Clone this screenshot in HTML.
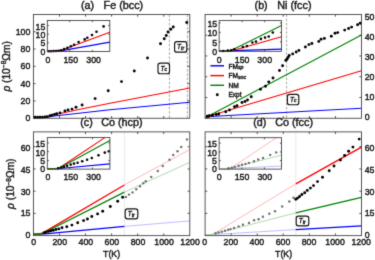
<!DOCTYPE html>
<html><head><meta charset="utf-8"><style>
html,body{margin:0;padding:0;background:#fff;overflow:hidden}
svg{display:block}
text{stroke:#1a1a1a;stroke-width:0.4px;paint-order:stroke}
</style></head><body>
<svg xmlns="http://www.w3.org/2000/svg" width="375" height="260" viewBox="0 0 375 260" font-family='"Liberation Sans", sans-serif' fill="#1a1a1a">
<defs><filter id="bl" x="0" y="0" width="1" height="1" color-interpolation-filters="sRGB"><feConvolveMatrix order="3" kernelMatrix="0.01440 0.09120 0.01440 0.09120 0.57760 0.09120 0.01440 0.09120 0.01440" divisor="1" edgeMode="duplicate" preserveAlpha="true"/></filter></defs>
<rect width="375" height="260" fill="#fff"/>
<g filter="url(#bl)">
<rect width="375" height="260" fill="#fff"/>
<line x1="169.4" y1="14.45" x2="169.4" y2="118.25" stroke="#a0a0a0" stroke-width="0.9" stroke-dasharray="2.6,1.6"/>
<line x1="187.4" y1="14.45" x2="187.4" y2="118.25" stroke="#a0a0a0" stroke-width="0.9" stroke-dasharray="2.6,1.6"/>
<path d="M33.4,117.6 L43,117.6 Q47.5,117.4 52,116.3 L110,109.8 L189.8,102.2" fill="none" stroke="#0000ff" stroke-width="1.1" stroke-linejoin="round" />
<path d="M33.4,117.6 L43,117.5 Q47.5,117.2 52,115.3 L80,109.3 L110,103.2 L189.8,88.0" fill="none" stroke="#ff0000" stroke-width="1.1" stroke-linejoin="round" />
<circle cx="186.75" cy="22.5" r="1.45" fill="#000"/>
<circle cx="173.25" cy="27" r="1.45" fill="#000"/>
<circle cx="170.75" cy="29.25" r="1.45" fill="#000"/>
<circle cx="168" cy="32" r="1.45" fill="#000"/>
<circle cx="166.25" cy="35.5" r="1.45" fill="#000"/>
<circle cx="164.25" cy="38.75" r="1.45" fill="#000"/>
<circle cx="160.5" cy="43.75" r="1.45" fill="#000"/>
<circle cx="147.5" cy="58" r="1.45" fill="#000"/>
<circle cx="134.3" cy="71" r="1.45" fill="#000"/>
<circle cx="121.5" cy="81.6" r="1.45" fill="#000"/>
<circle cx="108.2" cy="90.8" r="1.45" fill="#000"/>
<circle cx="95.1" cy="98.6" r="1.45" fill="#000"/>
<circle cx="82.1" cy="105" r="1.45" fill="#000"/>
<circle cx="76" cy="107.3" r="1.45" fill="#000"/>
<circle cx="72" cy="109.1" r="1.45" fill="#000"/>
<circle cx="68" cy="109.9" r="1.45" fill="#000"/>
<circle cx="64.9" cy="110.9" r="1.45" fill="#000"/>
<circle cx="60" cy="112.9" r="1.45" fill="#000"/>
<circle cx="56.7" cy="113.7" r="1.45" fill="#000"/>
<circle cx="54.5" cy="114.4" r="1.45" fill="#000"/>
<circle cx="52" cy="115.1" r="1.45" fill="#000"/>
<circle cx="50" cy="115.7" r="1.45" fill="#000"/>
<circle cx="47.3" cy="116.6" r="1.45" fill="#000"/>
<circle cx="45" cy="116.9" r="1.45" fill="#000"/>
<circle cx="42.5" cy="117.1" r="1.45" fill="#000"/>
<circle cx="40" cy="117.2" r="1.45" fill="#000"/>
<circle cx="37.5" cy="117.3" r="1.45" fill="#000"/>
<circle cx="35" cy="117.3" r="1.45" fill="#000"/>
<rect x="174.6" y="41.6" width="12.2" height="10.6" rx="2.3" fill="#fff" stroke="#111" stroke-width="1.15"/>
<text x="177.1" y="49" font-size="6.5" fill="#222"><tspan font-style="italic">T</tspan><tspan font-size="5.0" font-style="italic" dy="0.9">tr</tspan></text>
<rect x="158" y="63.1" width="11.5" height="10.6" rx="2.3" fill="#fff" stroke="#111" stroke-width="1.15"/>
<text x="160.5" y="70.5" font-size="6.5" fill="#222"><tspan font-style="italic">T</tspan><tspan font-size="5.0" font-style="italic" dy="0.9">c</tspan></text>
<rect x="33.4" y="14.45" width="156.4" height="103.8" fill="none" stroke="#3a3a3a" stroke-width="0.85"/>
<line x1="59.47" y1="118.25" x2="59.47" y2="116.05" stroke="#3a3a3a" stroke-width="0.85" />
<line x1="59.47" y1="14.45" x2="59.47" y2="16.65" stroke="#3a3a3a" stroke-width="0.85" />
<line x1="85.53" y1="118.25" x2="85.53" y2="116.05" stroke="#3a3a3a" stroke-width="0.85" />
<line x1="85.53" y1="14.45" x2="85.53" y2="16.65" stroke="#3a3a3a" stroke-width="0.85" />
<line x1="111.6" y1="118.25" x2="111.6" y2="116.05" stroke="#3a3a3a" stroke-width="0.85" />
<line x1="111.6" y1="14.45" x2="111.6" y2="16.65" stroke="#3a3a3a" stroke-width="0.85" />
<line x1="137.67" y1="118.25" x2="137.67" y2="116.05" stroke="#3a3a3a" stroke-width="0.85" />
<line x1="137.67" y1="14.45" x2="137.67" y2="16.65" stroke="#3a3a3a" stroke-width="0.85" />
<line x1="163.73" y1="118.25" x2="163.73" y2="116.05" stroke="#3a3a3a" stroke-width="0.85" />
<line x1="163.73" y1="14.45" x2="163.73" y2="16.65" stroke="#3a3a3a" stroke-width="0.85" />
<line x1="33.4" y1="100.95" x2="35.6" y2="100.95" stroke="#3a3a3a" stroke-width="0.85" />
<line x1="189.8" y1="100.95" x2="187.6" y2="100.95" stroke="#3a3a3a" stroke-width="0.85" />
<line x1="33.4" y1="83.65" x2="35.6" y2="83.65" stroke="#3a3a3a" stroke-width="0.85" />
<line x1="189.8" y1="83.65" x2="187.6" y2="83.65" stroke="#3a3a3a" stroke-width="0.85" />
<line x1="33.4" y1="66.35" x2="35.6" y2="66.35" stroke="#3a3a3a" stroke-width="0.85" />
<line x1="189.8" y1="66.35" x2="187.6" y2="66.35" stroke="#3a3a3a" stroke-width="0.85" />
<line x1="33.4" y1="49.05" x2="35.6" y2="49.05" stroke="#3a3a3a" stroke-width="0.85" />
<line x1="189.8" y1="49.05" x2="187.6" y2="49.05" stroke="#3a3a3a" stroke-width="0.85" />
<line x1="33.4" y1="31.75" x2="35.6" y2="31.75" stroke="#3a3a3a" stroke-width="0.85" />
<line x1="189.8" y1="31.75" x2="187.6" y2="31.75" stroke="#3a3a3a" stroke-width="0.85" />
<text transform="translate(30.3,120.83) scale(1.0,1.12)" font-size="8.8" text-anchor="end" >0</text>
<text transform="translate(30.3,103.71) scale(1.0,1.12)" font-size="8.8" text-anchor="end" >20</text>
<text transform="translate(30.3,86.59) scale(1.0,1.12)" font-size="8.8" text-anchor="end" >40</text>
<text transform="translate(30.3,69.47) scale(1.0,1.12)" font-size="8.8" text-anchor="end" >60</text>
<text transform="translate(30.3,52.35) scale(1.0,1.12)" font-size="8.8" text-anchor="end" >80</text>
<text transform="translate(30.3,35.23) scale(1.0,1.12)" font-size="8.8" text-anchor="end" >100</text>
<rect x="47.3" y="20.5" width="62.5" height="31" fill="#fff"/>
<path d="M47.3,51.2 L55.5,51.2 Q58.8,51.1 62,50.6 L109.8,42.1" fill="none" stroke="#0000ff" stroke-width="1.1" stroke-linejoin="round" />
<path d="M47.3,51.2 L55.5,51.2 Q58.8,51.1 62,50.1 L109.8,32.2" fill="none" stroke="#ff0000" stroke-width="1.1" stroke-linejoin="round" />
<circle cx="103.6" cy="26.4" r="1.3" fill="#000"/>
<circle cx="96.5" cy="31.8" r="1.3" fill="#000"/>
<circle cx="92" cy="35" r="1.3" fill="#000"/>
<circle cx="87.3" cy="37.7" r="1.3" fill="#000"/>
<circle cx="84.7" cy="39.4" r="1.3" fill="#000"/>
<circle cx="78.6" cy="42.1" r="1.3" fill="#000"/>
<circle cx="74.1" cy="44.8" r="1.3" fill="#000"/>
<circle cx="70.9" cy="46.2" r="1.3" fill="#000"/>
<circle cx="67.5" cy="47.8" r="1.3" fill="#000"/>
<circle cx="64.1" cy="49.1" r="1.3" fill="#000"/>
<circle cx="61.1" cy="50.2" r="1.3" fill="#000"/>
<circle cx="58.5" cy="50.8" r="1.3" fill="#000"/>
<circle cx="56" cy="51" r="1.3" fill="#000"/>
<circle cx="53.5" cy="51.1" r="1.3" fill="#000"/>
<circle cx="51" cy="51.2" r="1.3" fill="#000"/>
<circle cx="48.7" cy="51.2" r="1.3" fill="#000"/>
<rect x="47.3" y="20.5" width="62.5" height="31" fill="none" stroke="#3a3a3a" stroke-width="0.85"/>
<line x1="69.7" y1="51.5" x2="69.7" y2="49.9" stroke="#3a3a3a" stroke-width="0.85" />
<line x1="69.7" y1="20.5" x2="69.7" y2="22.1" stroke="#3a3a3a" stroke-width="0.85" />
<line x1="92.4" y1="51.5" x2="92.4" y2="49.9" stroke="#3a3a3a" stroke-width="0.85" />
<line x1="92.4" y1="20.5" x2="92.4" y2="22.1" stroke="#3a3a3a" stroke-width="0.85" />
<line x1="47.3" y1="42.8" x2="48.9" y2="42.8" stroke="#3a3a3a" stroke-width="0.85" />
<line x1="109.8" y1="42.8" x2="108.2" y2="42.8" stroke="#3a3a3a" stroke-width="0.85" />
<line x1="47.3" y1="34.2" x2="48.9" y2="34.2" stroke="#3a3a3a" stroke-width="0.85" />
<line x1="109.8" y1="34.2" x2="108.2" y2="34.2" stroke="#3a3a3a" stroke-width="0.85" />
<line x1="47.3" y1="25.5" x2="48.9" y2="25.5" stroke="#3a3a3a" stroke-width="0.85" />
<line x1="109.8" y1="25.5" x2="108.2" y2="25.5" stroke="#3a3a3a" stroke-width="0.85" />
<text transform="translate(45.4,54.53) scale(1.0,1.12)" font-size="8.8" text-anchor="end" >0</text>
<text transform="translate(45.4,46.43) scale(1.0,1.12)" font-size="8.8" text-anchor="end" >5</text>
<text transform="translate(45.4,38.23) scale(1.0,1.12)" font-size="8.8" text-anchor="end" >10</text>
<text transform="translate(45.4,29.93) scale(1.0,1.12)" font-size="8.8" text-anchor="end" >15</text>
<text transform="translate(47.9,63.13) scale(1.0,1.12)" font-size="8.8" text-anchor="middle" >0</text>
<text transform="translate(70.8,63.13) scale(1.0,1.12)" font-size="8.8" text-anchor="middle" >150</text>
<text transform="translate(93.6,63.13) scale(1.0,1.12)" font-size="8.8" text-anchor="middle" >300</text>
<line x1="286.6" y1="14.45" x2="286.6" y2="118.25" stroke="#a0a0a0" stroke-width="0.9" stroke-dasharray="2.6,1.6"/>
<path d="M205.1,117.6 L207,117.6 Q208.5,117.4 210,116.5 L361.45,108.3" fill="none" stroke="#0000ff" stroke-width="1.1" stroke-linejoin="round" />
<path d="M205.1,117.6 L207,117.5 Q209,117.2 211,115.5 L361.45,70.8" fill="none" stroke="#ff0000" stroke-width="1.1" stroke-linejoin="round" />
<path d="M205.1,117.6 Q207.8,117.5 210,115.2 L361.45,35" fill="none" stroke="#008000" stroke-width="1.1" stroke-linejoin="round" />
<circle cx="360.2" cy="23.2" r="1.45" fill="#000"/>
<circle cx="357.6" cy="24.8" r="1.45" fill="#000"/>
<circle cx="351.6" cy="27.1" r="1.45" fill="#000"/>
<circle cx="348.6" cy="28.5" r="1.45" fill="#000"/>
<circle cx="344.7" cy="30.1" r="1.45" fill="#000"/>
<circle cx="337.7" cy="32.6" r="1.45" fill="#000"/>
<circle cx="335" cy="33.3" r="1.45" fill="#000"/>
<circle cx="331.3" cy="36.3" r="1.45" fill="#000"/>
<circle cx="324.4" cy="38.4" r="1.45" fill="#000"/>
<circle cx="321.1" cy="39.3" r="1.45" fill="#000"/>
<circle cx="318.8" cy="41.4" r="1.45" fill="#000"/>
<circle cx="311.9" cy="43.5" r="1.45" fill="#000"/>
<circle cx="308.9" cy="44.6" r="1.45" fill="#000"/>
<circle cx="305.4" cy="47" r="1.45" fill="#000"/>
<circle cx="298.9" cy="50.4" r="1.45" fill="#000"/>
<circle cx="296.2" cy="52" r="1.45" fill="#000"/>
<circle cx="292.7" cy="53.9" r="1.45" fill="#000"/>
<circle cx="289.2" cy="55.5" r="1.45" fill="#000"/>
<circle cx="288.1" cy="57.4" r="1.45" fill="#000"/>
<circle cx="286.9" cy="59.2" r="1.45" fill="#000"/>
<circle cx="285.8" cy="60.4" r="1.45" fill="#000"/>
<circle cx="282.6" cy="65.8" r="1.45" fill="#000"/>
<circle cx="279.5" cy="70.5" r="1.45" fill="#000"/>
<circle cx="273" cy="78" r="1.45" fill="#000"/>
<circle cx="268.75" cy="82" r="1.45" fill="#000"/>
<circle cx="265.5" cy="86.25" r="1.45" fill="#000"/>
<circle cx="260.5" cy="89.25" r="1.45" fill="#000"/>
<circle cx="251.25" cy="96.75" r="1.45" fill="#000"/>
<circle cx="247.5" cy="100" r="1.45" fill="#000"/>
<circle cx="245" cy="101.5" r="1.45" fill="#000"/>
<circle cx="242" cy="102.5" r="1.45" fill="#000"/>
<circle cx="237" cy="105.75" r="1.45" fill="#000"/>
<circle cx="234.5" cy="106.75" r="1.45" fill="#000"/>
<circle cx="229.5" cy="110" r="1.45" fill="#000"/>
<circle cx="225.75" cy="111.75" r="1.45" fill="#000"/>
<circle cx="218.75" cy="114" r="1.45" fill="#000"/>
<circle cx="216.25" cy="114.5" r="1.45" fill="#000"/>
<circle cx="212.5" cy="115.25" r="1.45" fill="#000"/>
<circle cx="209.25" cy="115.75" r="1.45" fill="#000"/>
<circle cx="207.3" cy="116.2" r="1.45" fill="#000"/>
<rect x="287.4" y="94.3" width="11.4" height="10.4" rx="2.3" fill="#fff" stroke="#111" stroke-width="1.15"/>
<text x="289.9" y="101.5" font-size="6.5" fill="#222"><tspan font-style="italic">T</tspan><tspan font-size="5.0" font-style="italic" dy="0.9">c</tspan></text>
<rect x="205.1" y="14.45" width="156.35" height="103.8" fill="none" stroke="#3a3a3a" stroke-width="0.85"/>
<line x1="231.16" y1="118.25" x2="231.16" y2="116.05" stroke="#3a3a3a" stroke-width="0.85" />
<line x1="231.16" y1="14.45" x2="231.16" y2="16.65" stroke="#3a3a3a" stroke-width="0.85" />
<line x1="257.22" y1="118.25" x2="257.22" y2="116.05" stroke="#3a3a3a" stroke-width="0.85" />
<line x1="257.22" y1="14.45" x2="257.22" y2="16.65" stroke="#3a3a3a" stroke-width="0.85" />
<line x1="283.27" y1="118.25" x2="283.27" y2="116.05" stroke="#3a3a3a" stroke-width="0.85" />
<line x1="283.27" y1="14.45" x2="283.27" y2="16.65" stroke="#3a3a3a" stroke-width="0.85" />
<line x1="309.33" y1="118.25" x2="309.33" y2="116.05" stroke="#3a3a3a" stroke-width="0.85" />
<line x1="309.33" y1="14.45" x2="309.33" y2="16.65" stroke="#3a3a3a" stroke-width="0.85" />
<line x1="335.39" y1="118.25" x2="335.39" y2="116.05" stroke="#3a3a3a" stroke-width="0.85" />
<line x1="335.39" y1="14.45" x2="335.39" y2="16.65" stroke="#3a3a3a" stroke-width="0.85" />
<line x1="205.1" y1="97.49" x2="207.3" y2="97.49" stroke="#3a3a3a" stroke-width="0.85" />
<line x1="361.45" y1="97.49" x2="359.25" y2="97.49" stroke="#3a3a3a" stroke-width="0.85" />
<line x1="205.1" y1="76.73" x2="207.3" y2="76.73" stroke="#3a3a3a" stroke-width="0.85" />
<line x1="361.45" y1="76.73" x2="359.25" y2="76.73" stroke="#3a3a3a" stroke-width="0.85" />
<line x1="205.1" y1="55.97" x2="207.3" y2="55.97" stroke="#3a3a3a" stroke-width="0.85" />
<line x1="361.45" y1="55.97" x2="359.25" y2="55.97" stroke="#3a3a3a" stroke-width="0.85" />
<line x1="205.1" y1="35.21" x2="207.3" y2="35.21" stroke="#3a3a3a" stroke-width="0.85" />
<line x1="361.45" y1="35.21" x2="359.25" y2="35.21" stroke="#3a3a3a" stroke-width="0.85" />
<text transform="translate(364.7,120.43) scale(1.0,1.12)" font-size="8.8" text-anchor="start" >0</text>
<text transform="translate(364.7,100.39) scale(1.0,1.12)" font-size="8.8" text-anchor="start" >10</text>
<text transform="translate(364.7,80.35) scale(1.0,1.12)" font-size="8.8" text-anchor="start" >20</text>
<text transform="translate(364.7,60.31) scale(1.0,1.12)" font-size="8.8" text-anchor="start" >30</text>
<text transform="translate(364.7,40.27) scale(1.0,1.12)" font-size="8.8" text-anchor="start" >40</text>
<text transform="translate(364.7,20.23) scale(1.0,1.12)" font-size="8.8" text-anchor="start" >50</text>
<line x1="210.4" y1="65.8" x2="224" y2="65.8" stroke="#0000ff" stroke-width="1.45" />
<line x1="210.4" y1="75.6" x2="224" y2="75.6" stroke="#ff0000" stroke-width="1.45" />
<line x1="210.4" y1="85.3" x2="224" y2="85.3" stroke="#008000" stroke-width="1.45" />
<circle cx="217.3" cy="94.7" r="1.45" fill="#000"/>
<text x="228.4" y="68.5" font-size="6.6">FM<tspan font-size="5.2" font-style="italic" dy="0.9">sp</tspan></text>
<text x="228.4" y="78.2" font-size="6.6">FM<tspan font-size="5.2" font-style="italic" dy="0.9">soc</tspan></text>
<text x="228.4" y="87.7" font-size="6.6">NM</text>
<text x="228.4" y="96.6" font-size="6.6">Expt</text>
<rect x="219.1" y="20.6" width="62.4" height="30.7" fill="#fff"/>
<path d="M219.1,51.1 L228,51.1 Q231,51 234,50.6 L281.5,49.1" fill="none" stroke="#0000ff" stroke-width="1.1" stroke-linejoin="round" />
<path d="M219.1,51.1 L226,51.1 Q229.5,51 233,50.5 L281.5,36.7" fill="none" stroke="#ff0000" stroke-width="1.1" stroke-linejoin="round" />
<path d="M219.1,51.1 L225.5,51.1 Q229,51 232,50.1 L281.5,25.6" fill="none" stroke="#008000" stroke-width="1.1" stroke-linejoin="round" />
<circle cx="272.8" cy="32.5" r="1.3" fill="#000"/>
<circle cx="268.7" cy="36.5" r="1.3" fill="#000"/>
<circle cx="265" cy="37.6" r="1.3" fill="#000"/>
<circle cx="260.9" cy="38.9" r="1.3" fill="#000"/>
<circle cx="256" cy="41.6" r="1.3" fill="#000"/>
<circle cx="252.4" cy="42.5" r="1.3" fill="#000"/>
<circle cx="246.9" cy="46.1" r="1.3" fill="#000"/>
<circle cx="242.9" cy="47" r="1.3" fill="#000"/>
<circle cx="234.2" cy="49.2" r="1.3" fill="#000"/>
<circle cx="231.1" cy="50.3" r="1.3" fill="#000"/>
<circle cx="227.9" cy="50.6" r="1.3" fill="#000"/>
<circle cx="223.3" cy="51" r="1.3" fill="#000"/>
<rect x="219.1" y="20.6" width="62.4" height="30.7" fill="none" stroke="#3a3a3a" stroke-width="0.85"/>
<line x1="242.1" y1="51.3" x2="242.1" y2="49.7" stroke="#3a3a3a" stroke-width="0.85" />
<line x1="242.1" y1="20.6" x2="242.1" y2="22.2" stroke="#3a3a3a" stroke-width="0.85" />
<line x1="264.6" y1="51.3" x2="264.6" y2="49.7" stroke="#3a3a3a" stroke-width="0.85" />
<line x1="264.6" y1="20.6" x2="264.6" y2="22.2" stroke="#3a3a3a" stroke-width="0.85" />
<line x1="219.1" y1="41.9" x2="220.7" y2="41.9" stroke="#3a3a3a" stroke-width="0.85" />
<line x1="281.5" y1="41.9" x2="279.9" y2="41.9" stroke="#3a3a3a" stroke-width="0.85" />
<line x1="219.1" y1="32.4" x2="220.7" y2="32.4" stroke="#3a3a3a" stroke-width="0.85" />
<line x1="281.5" y1="32.4" x2="279.9" y2="32.4" stroke="#3a3a3a" stroke-width="0.85" />
<line x1="219.1" y1="23" x2="220.7" y2="23" stroke="#3a3a3a" stroke-width="0.85" />
<line x1="281.5" y1="23" x2="279.9" y2="23" stroke="#3a3a3a" stroke-width="0.85" />
<text transform="translate(217.2,54.83) scale(1.0,1.12)" font-size="8.8" text-anchor="end" >0</text>
<text transform="translate(217.2,45.83) scale(1.0,1.12)" font-size="8.8" text-anchor="end" >5</text>
<text transform="translate(217.2,36.13) scale(1.0,1.12)" font-size="8.8" text-anchor="end" >10</text>
<text transform="translate(217.2,26.83) scale(1.0,1.12)" font-size="8.8" text-anchor="end" >15</text>
<text transform="translate(219.1,62.93) scale(1.0,1.12)" font-size="8.8" text-anchor="middle" >0</text>
<text transform="translate(242.1,62.93) scale(1.0,1.12)" font-size="8.8" text-anchor="middle" >150</text>
<text transform="translate(264.7,62.93) scale(1.0,1.12)" font-size="8.8" text-anchor="middle" >300</text>
<line x1="124.4" y1="131.9" x2="124.4" y2="235.65" stroke="#d6d6d6" stroke-width="0.9" stroke-dasharray="1.2,0.8"/>
<path d="M124.4,226.4 L189.8,220.9" fill="none" stroke="#b6b6ff" stroke-width="0.9" stroke-linejoin="round" />
<path d="M124.4,184.8 L189.8,149.6" fill="none" stroke="#ffb0b0" stroke-width="0.9" stroke-linejoin="round" />
<path d="M124.4,192.2 L189.8,162.3" fill="none" stroke="#a6d6a6" stroke-width="0.9" stroke-linejoin="round" />
<circle cx="187" cy="139.4" r="1.2" fill="#6e6e6e"/>
<circle cx="181.25" cy="147" r="1.2" fill="#6e6e6e"/>
<circle cx="177.5" cy="151.25" r="1.2" fill="#6e6e6e"/>
<circle cx="173.25" cy="155" r="1.2" fill="#6e6e6e"/>
<circle cx="169.5" cy="159.8" r="1.2" fill="#6e6e6e"/>
<circle cx="162.75" cy="166" r="1.2" fill="#6e6e6e"/>
<circle cx="157.75" cy="171" r="1.2" fill="#6e6e6e"/>
<circle cx="151.25" cy="177" r="1.2" fill="#6e6e6e"/>
<circle cx="145.75" cy="181.3" r="1.2" fill="#6e6e6e"/>
<circle cx="143.25" cy="183.3" r="1.2" fill="#6e6e6e"/>
<circle cx="140" cy="186.2" r="1.2" fill="#6e6e6e"/>
<circle cx="136.25" cy="189.2" r="1.2" fill="#6e6e6e"/>
<circle cx="132.5" cy="192.4" r="1.2" fill="#6e6e6e"/>
<circle cx="129" cy="194.6" r="1.2" fill="#6e6e6e"/>
<circle cx="125.9" cy="197" r="1.2" fill="#6e6e6e"/>
<path d="M33.4,234.3 L40,234.2 Q44,234.1 48,233.7 L124.4,226.4" fill="none" stroke="#0000ff" stroke-width="1.2" stroke-linejoin="round" />
<path d="M33.4,234.2 L38,234.1 Q41,233.9 43,232.8 L124.4,185.0" fill="none" stroke="#ff0000" stroke-width="1.35" stroke-linejoin="round" />
<path d="M33.4,234.2 L38,234.1 Q41,233.9 43.5,233.0 L124.4,192.1" fill="none" stroke="#008000" stroke-width="1.35" stroke-linejoin="round" />
<circle cx="122.6" cy="197.3" r="1.45" fill="#000"/>
<circle cx="117.7" cy="201.3" r="1.45" fill="#000"/>
<circle cx="110.3" cy="206.5" r="1.45" fill="#000"/>
<circle cx="102.7" cy="211.2" r="1.45" fill="#000"/>
<circle cx="97.6" cy="213.9" r="1.45" fill="#000"/>
<circle cx="91.8" cy="216.5" r="1.45" fill="#000"/>
<circle cx="87.4" cy="219" r="1.45" fill="#000"/>
<circle cx="83.6" cy="220.6" r="1.45" fill="#000"/>
<circle cx="77.7" cy="222.7" r="1.45" fill="#000"/>
<circle cx="71.9" cy="225.1" r="1.45" fill="#000"/>
<circle cx="66.8" cy="226.7" r="1.45" fill="#000"/>
<circle cx="62" cy="227.8" r="1.45" fill="#000"/>
<circle cx="58.8" cy="228.9" r="1.45" fill="#000"/>
<circle cx="56" cy="229.5" r="1.45" fill="#000"/>
<circle cx="53.4" cy="230.2" r="1.45" fill="#000"/>
<circle cx="51" cy="230.8" r="1.45" fill="#000"/>
<circle cx="48.6" cy="231.4" r="1.45" fill="#000"/>
<circle cx="46.2" cy="232.1" r="1.45" fill="#000"/>
<circle cx="44.2" cy="232.7" r="1.45" fill="#000"/>
<rect x="125.2" y="208.9" width="12.6" height="10" rx="2.3" fill="#fff" stroke="#111" stroke-width="1.15"/>
<text x="127.7" y="215.7" font-size="6.5" fill="#222"><tspan font-style="italic">T</tspan><tspan font-size="5.0" font-style="italic" dy="0.9">tr</tspan></text>
<rect x="33.4" y="131.9" width="156.4" height="103.75" fill="none" stroke="#3a3a3a" stroke-width="0.85"/>
<line x1="59.47" y1="235.65" x2="59.47" y2="233.45" stroke="#3a3a3a" stroke-width="0.85" />
<line x1="59.47" y1="131.9" x2="59.47" y2="134.1" stroke="#3a3a3a" stroke-width="0.85" />
<line x1="85.53" y1="235.65" x2="85.53" y2="233.45" stroke="#3a3a3a" stroke-width="0.85" />
<line x1="85.53" y1="131.9" x2="85.53" y2="134.1" stroke="#3a3a3a" stroke-width="0.85" />
<line x1="111.6" y1="235.65" x2="111.6" y2="233.45" stroke="#3a3a3a" stroke-width="0.85" />
<line x1="111.6" y1="131.9" x2="111.6" y2="134.1" stroke="#3a3a3a" stroke-width="0.85" />
<line x1="137.67" y1="235.65" x2="137.67" y2="233.45" stroke="#3a3a3a" stroke-width="0.85" />
<line x1="137.67" y1="131.9" x2="137.67" y2="134.1" stroke="#3a3a3a" stroke-width="0.85" />
<line x1="163.73" y1="235.65" x2="163.73" y2="233.45" stroke="#3a3a3a" stroke-width="0.85" />
<line x1="163.73" y1="131.9" x2="163.73" y2="134.1" stroke="#3a3a3a" stroke-width="0.85" />
<line x1="33.4" y1="213.42" x2="35.6" y2="213.42" stroke="#3a3a3a" stroke-width="0.85" />
<line x1="189.8" y1="213.42" x2="187.6" y2="213.42" stroke="#3a3a3a" stroke-width="0.85" />
<line x1="33.4" y1="191.19" x2="35.6" y2="191.19" stroke="#3a3a3a" stroke-width="0.85" />
<line x1="189.8" y1="191.19" x2="187.6" y2="191.19" stroke="#3a3a3a" stroke-width="0.85" />
<line x1="33.4" y1="168.95" x2="35.6" y2="168.95" stroke="#3a3a3a" stroke-width="0.85" />
<line x1="189.8" y1="168.95" x2="187.6" y2="168.95" stroke="#3a3a3a" stroke-width="0.85" />
<line x1="33.4" y1="146.72" x2="35.6" y2="146.72" stroke="#3a3a3a" stroke-width="0.85" />
<line x1="189.8" y1="146.72" x2="187.6" y2="146.72" stroke="#3a3a3a" stroke-width="0.85" />
<text transform="translate(30.5,237.83) scale(1.0,1.12)" font-size="8.8" text-anchor="end" >0</text>
<text transform="translate(30.5,216.23) scale(1.0,1.12)" font-size="8.8" text-anchor="end" >15</text>
<text transform="translate(30.5,194.93) scale(1.0,1.12)" font-size="8.8" text-anchor="end" >30</text>
<text transform="translate(30.5,173.13) scale(1.0,1.12)" font-size="8.8" text-anchor="end" >45</text>
<text transform="translate(30.5,151.03) scale(1.0,1.12)" font-size="8.8" text-anchor="end" >60</text>
<text transform="translate(33.7,245.43) scale(1.0,1.12)" font-size="8.8" text-anchor="middle" >0</text>
<text transform="translate(59.77,245.43) scale(1.0,1.12)" font-size="8.8" text-anchor="middle" >200</text>
<text transform="translate(85.83,245.43) scale(1.0,1.12)" font-size="8.8" text-anchor="middle" >400</text>
<text transform="translate(111.9,245.43) scale(1.0,1.12)" font-size="8.8" text-anchor="middle" >600</text>
<text transform="translate(137.97,245.43) scale(1.0,1.12)" font-size="8.8" text-anchor="middle" >800</text>
<text transform="translate(164.03,245.43) scale(1.0,1.12)" font-size="8.8" text-anchor="middle" >1000</text>
<text transform="translate(190.1,245.43) scale(1.0,1.12)" font-size="8.8" text-anchor="middle" >1200</text>
<rect x="47.3" y="137.6" width="62.6" height="31.5" fill="#fff"/>
<path d="M47.3,168.8 L56,168.8 Q59,168.7 62,168.2 L109.9,163.9" fill="none" stroke="#0000ff" stroke-width="1.1" stroke-linejoin="round" />
<path d="M47.3,168.8 L54,168.8 Q57,168.7 60,167.5 L104.8,137.6" fill="none" stroke="#ff0000" stroke-width="1.1" stroke-linejoin="round" />
<path d="M47.3,168.8 L54,168.8 Q57,168.7 60,167.8 L109.9,140.4" fill="none" stroke="#008000" stroke-width="1.1" stroke-linejoin="round" />
<circle cx="108.8" cy="151.3" r="1.3" fill="#000"/>
<circle cx="104.8" cy="152.6" r="1.3" fill="#000"/>
<circle cx="98.5" cy="155.3" r="1.3" fill="#000"/>
<circle cx="91.8" cy="158" r="1.3" fill="#000"/>
<circle cx="87.1" cy="159.8" r="1.3" fill="#000"/>
<circle cx="82.2" cy="161.3" r="1.3" fill="#000"/>
<circle cx="77.6" cy="162.7" r="1.3" fill="#000"/>
<circle cx="74" cy="163.6" r="1.3" fill="#000"/>
<circle cx="70.7" cy="164.6" r="1.3" fill="#000"/>
<circle cx="67.1" cy="165.8" r="1.3" fill="#000"/>
<circle cx="64" cy="166.7" r="1.3" fill="#000"/>
<circle cx="61.3" cy="167.6" r="1.3" fill="#000"/>
<circle cx="58.1" cy="168.2" r="1.3" fill="#000"/>
<rect x="47.3" y="137.6" width="62.6" height="31.5" fill="none" stroke="#3a3a3a" stroke-width="0.85"/>
<line x1="69.8" y1="169.1" x2="69.8" y2="167.5" stroke="#3a3a3a" stroke-width="0.85" />
<line x1="69.8" y1="137.6" x2="69.8" y2="139.2" stroke="#3a3a3a" stroke-width="0.85" />
<line x1="92.5" y1="169.1" x2="92.5" y2="167.5" stroke="#3a3a3a" stroke-width="0.85" />
<line x1="92.5" y1="137.6" x2="92.5" y2="139.2" stroke="#3a3a3a" stroke-width="0.85" />
<line x1="47.3" y1="160.6" x2="48.9" y2="160.6" stroke="#3a3a3a" stroke-width="0.85" />
<line x1="109.9" y1="160.6" x2="108.3" y2="160.6" stroke="#3a3a3a" stroke-width="0.85" />
<line x1="47.3" y1="151.7" x2="48.9" y2="151.7" stroke="#3a3a3a" stroke-width="0.85" />
<line x1="109.9" y1="151.7" x2="108.3" y2="151.7" stroke="#3a3a3a" stroke-width="0.85" />
<line x1="47.3" y1="142.9" x2="48.9" y2="142.9" stroke="#3a3a3a" stroke-width="0.85" />
<line x1="109.9" y1="142.9" x2="108.3" y2="142.9" stroke="#3a3a3a" stroke-width="0.85" />
<text transform="translate(45.2,172.23) scale(1.0,1.12)" font-size="8.8" text-anchor="end" >0</text>
<text transform="translate(45.2,164.23) scale(1.0,1.12)" font-size="8.8" text-anchor="end" >5</text>
<text transform="translate(45.2,155.83) scale(1.0,1.12)" font-size="8.8" text-anchor="end" >10</text>
<text transform="translate(45.2,147.03) scale(1.0,1.12)" font-size="8.8" text-anchor="end" >15</text>
<text transform="translate(47.9,179.53) scale(1.0,1.12)" font-size="8.8" text-anchor="middle" >0</text>
<text transform="translate(70.8,179.53) scale(1.0,1.12)" font-size="8.8" text-anchor="middle" >150</text>
<text transform="translate(93.6,179.53) scale(1.0,1.12)" font-size="8.8" text-anchor="middle" >300</text>
<line x1="295.8" y1="131.9" x2="295.8" y2="235.65" stroke="#d6d6d6" stroke-width="0.9" stroke-dasharray="1.2,0.8"/>
<path d="M205.1,234.9 L211,234.8 Q214,234.7 217,234.3 L295.8,229.6" fill="none" stroke="#b6b6ff" stroke-width="0.9" stroke-linejoin="round" />
<path d="M205.1,234.9 L209,234.8 Q212,234.5 215,233 L295.8,183.8" fill="none" stroke="#ffb0b0" stroke-width="0.9" stroke-linejoin="round" />
<path d="M205.1,234.9 L209,234.8 Q212,234.6 215,233.7 L295.8,212.9" fill="none" stroke="#a6d6a6" stroke-width="0.9" stroke-linejoin="round" />
<circle cx="293.5" cy="197.8" r="1.2" fill="#6e6e6e"/>
<circle cx="289.3" cy="201.5" r="1.2" fill="#6e6e6e"/>
<circle cx="282.2" cy="206.5" r="1.2" fill="#6e6e6e"/>
<circle cx="275" cy="211.2" r="1.2" fill="#6e6e6e"/>
<circle cx="269.3" cy="213.8" r="1.2" fill="#6e6e6e"/>
<circle cx="262.9" cy="216.8" r="1.2" fill="#6e6e6e"/>
<circle cx="258.6" cy="219.2" r="1.2" fill="#6e6e6e"/>
<circle cx="254.1" cy="220.3" r="1.2" fill="#6e6e6e"/>
<circle cx="249" cy="222.9" r="1.2" fill="#6e6e6e"/>
<circle cx="242.9" cy="224.8" r="1.2" fill="#6e6e6e"/>
<circle cx="238.6" cy="226.4" r="1.2" fill="#6e6e6e"/>
<circle cx="234.1" cy="228" r="1.2" fill="#6e6e6e"/>
<circle cx="230.6" cy="229.1" r="1.2" fill="#6e6e6e"/>
<circle cx="228.2" cy="229.8" r="1.2" fill="#6e6e6e"/>
<circle cx="225" cy="230.7" r="1.2" fill="#6e6e6e"/>
<circle cx="221.8" cy="231.7" r="1.2" fill="#6e6e6e"/>
<circle cx="218.6" cy="232.5" r="1.2" fill="#6e6e6e"/>
<circle cx="215.6" cy="233.2" r="1.2" fill="#6e6e6e"/>
<path d="M295.8,229.6 L361.45,225.8" fill="none" stroke="#0000ff" stroke-width="1.35" stroke-linejoin="round" />
<path d="M295.8,183.8 L361.45,147.1" fill="none" stroke="#ff0000" stroke-width="1.35" stroke-linejoin="round" />
<path d="M295.8,212.9 L361.45,197.3" fill="none" stroke="#008000" stroke-width="1.35" stroke-linejoin="round" />
<circle cx="295.8" cy="199.2" r="1.45" fill="#000"/>
<circle cx="297.6" cy="198.1" r="1.45" fill="#000"/>
<circle cx="299.6" cy="196.5" r="1.45" fill="#000"/>
<circle cx="301.9" cy="194.5" r="1.45" fill="#000"/>
<circle cx="304.7" cy="192.7" r="1.45" fill="#000"/>
<circle cx="307.3" cy="190.4" r="1.45" fill="#000"/>
<circle cx="310.4" cy="188.1" r="1.45" fill="#000"/>
<circle cx="313.5" cy="185.6" r="1.45" fill="#000"/>
<circle cx="317.5" cy="181.6" r="1.45" fill="#000"/>
<circle cx="322.5" cy="177.3" r="1.45" fill="#000"/>
<circle cx="329.2" cy="170.8" r="1.45" fill="#000"/>
<circle cx="334" cy="166" r="1.45" fill="#000"/>
<circle cx="340.4" cy="160" r="1.45" fill="#000"/>
<circle cx="344.6" cy="155.5" r="1.45" fill="#000"/>
<circle cx="348.6" cy="151.3" r="1.45" fill="#000"/>
<circle cx="352.9" cy="147.1" r="1.45" fill="#000"/>
<circle cx="359.2" cy="139.1" r="1.45" fill="#000"/>
<rect x="296.2" y="216.1" width="12.6" height="9.8" rx="2.3" fill="#fff" stroke="#111" stroke-width="1.15"/>
<text x="298.7" y="222.7" font-size="6.5" fill="#222"><tspan font-style="italic">T</tspan><tspan font-size="5.0" font-style="italic" dy="0.9">tr</tspan></text>
<rect x="205.1" y="131.9" width="156.35" height="103.75" fill="none" stroke="#3a3a3a" stroke-width="0.85"/>
<line x1="231.16" y1="235.65" x2="231.16" y2="233.45" stroke="#3a3a3a" stroke-width="0.85" />
<line x1="231.16" y1="131.9" x2="231.16" y2="134.1" stroke="#3a3a3a" stroke-width="0.85" />
<line x1="257.22" y1="235.65" x2="257.22" y2="233.45" stroke="#3a3a3a" stroke-width="0.85" />
<line x1="257.22" y1="131.9" x2="257.22" y2="134.1" stroke="#3a3a3a" stroke-width="0.85" />
<line x1="283.27" y1="235.65" x2="283.27" y2="233.45" stroke="#3a3a3a" stroke-width="0.85" />
<line x1="283.27" y1="131.9" x2="283.27" y2="134.1" stroke="#3a3a3a" stroke-width="0.85" />
<line x1="309.33" y1="235.65" x2="309.33" y2="233.45" stroke="#3a3a3a" stroke-width="0.85" />
<line x1="309.33" y1="131.9" x2="309.33" y2="134.1" stroke="#3a3a3a" stroke-width="0.85" />
<line x1="335.39" y1="235.65" x2="335.39" y2="233.45" stroke="#3a3a3a" stroke-width="0.85" />
<line x1="335.39" y1="131.9" x2="335.39" y2="134.1" stroke="#3a3a3a" stroke-width="0.85" />
<line x1="205.1" y1="213.42" x2="207.3" y2="213.42" stroke="#3a3a3a" stroke-width="0.85" />
<line x1="361.45" y1="213.42" x2="359.25" y2="213.42" stroke="#3a3a3a" stroke-width="0.85" />
<line x1="205.1" y1="191.19" x2="207.3" y2="191.19" stroke="#3a3a3a" stroke-width="0.85" />
<line x1="361.45" y1="191.19" x2="359.25" y2="191.19" stroke="#3a3a3a" stroke-width="0.85" />
<line x1="205.1" y1="168.95" x2="207.3" y2="168.95" stroke="#3a3a3a" stroke-width="0.85" />
<line x1="361.45" y1="168.95" x2="359.25" y2="168.95" stroke="#3a3a3a" stroke-width="0.85" />
<line x1="205.1" y1="146.72" x2="207.3" y2="146.72" stroke="#3a3a3a" stroke-width="0.85" />
<line x1="361.45" y1="146.72" x2="359.25" y2="146.72" stroke="#3a3a3a" stroke-width="0.85" />
<text transform="translate(364.7,237.83) scale(1.0,1.12)" font-size="8.8" text-anchor="start" >0</text>
<text transform="translate(364.7,216.23) scale(1.0,1.12)" font-size="8.8" text-anchor="start" >15</text>
<text transform="translate(364.7,194.93) scale(1.0,1.12)" font-size="8.8" text-anchor="start" >30</text>
<text transform="translate(364.7,173.13) scale(1.0,1.12)" font-size="8.8" text-anchor="start" >45</text>
<text transform="translate(364.7,151.13) scale(1.0,1.12)" font-size="8.8" text-anchor="start" >60</text>
<text transform="translate(204.8,245.43) scale(1.0,1.12)" font-size="8.8" text-anchor="middle" >0</text>
<text transform="translate(230.86,245.43) scale(1.0,1.12)" font-size="8.8" text-anchor="middle" >200</text>
<text transform="translate(256.92,245.43) scale(1.0,1.12)" font-size="8.8" text-anchor="middle" >400</text>
<text transform="translate(282.97,245.43) scale(1.0,1.12)" font-size="8.8" text-anchor="middle" >600</text>
<text transform="translate(309.03,245.43) scale(1.0,1.12)" font-size="8.8" text-anchor="middle" >800</text>
<text transform="translate(335.09,245.43) scale(1.0,1.12)" font-size="8.8" text-anchor="middle" >1000</text>
<text transform="translate(361.15,245.43) scale(1.0,1.12)" font-size="8.8" text-anchor="middle" >1200</text>
<rect x="219.1" y="137.7" width="62.4" height="31.4" fill="#fff"/>
<path d="M219.1,168.8 L228,168.8 Q231,168.7 234,168.3 L281.5,166.0" fill="none" stroke="#b6b6ff" stroke-width="0.9" stroke-linejoin="round" />
<path d="M219.1,168.8 L226,168.8 Q229,168.7 232,167.4 L276.5,137.7" fill="none" stroke="#ffb0b0" stroke-width="0.9" stroke-linejoin="round" />
<path d="M219.1,168.8 L226,168.8 Q229,168.7 232,167.8 L281.5,155.1" fill="none" stroke="#a6d6a6" stroke-width="0.9" stroke-linejoin="round" />
<circle cx="276.2" cy="152.4" r="1.2" fill="#6e6e6e"/>
<circle cx="270.2" cy="154.9" r="1.2" fill="#6e6e6e"/>
<circle cx="263" cy="158" r="1.2" fill="#6e6e6e"/>
<circle cx="258.2" cy="159.5" r="1.2" fill="#6e6e6e"/>
<circle cx="254" cy="161.2" r="1.2" fill="#6e6e6e"/>
<circle cx="248.9" cy="162.9" r="1.2" fill="#6e6e6e"/>
<circle cx="245.5" cy="164" r="1.2" fill="#6e6e6e"/>
<circle cx="242" cy="164.8" r="1.2" fill="#6e6e6e"/>
<circle cx="238.6" cy="165.7" r="1.2" fill="#6e6e6e"/>
<circle cx="234.7" cy="166.9" r="1.2" fill="#6e6e6e"/>
<circle cx="231.8" cy="167.7" r="1.2" fill="#6e6e6e"/>
<circle cx="228.5" cy="168.3" r="1.2" fill="#6e6e6e"/>
<rect x="219.1" y="137.7" width="62.4" height="31.4" fill="none" stroke="#3a3a3a" stroke-width="0.85"/>
<line x1="241.9" y1="169.1" x2="241.9" y2="167.5" stroke="#3a3a3a" stroke-width="0.85" />
<line x1="241.9" y1="137.7" x2="241.9" y2="139.3" stroke="#3a3a3a" stroke-width="0.85" />
<line x1="264.4" y1="169.1" x2="264.4" y2="167.5" stroke="#3a3a3a" stroke-width="0.85" />
<line x1="264.4" y1="137.7" x2="264.4" y2="139.3" stroke="#3a3a3a" stroke-width="0.85" />
<line x1="219.1" y1="160.6" x2="220.7" y2="160.6" stroke="#3a3a3a" stroke-width="0.85" />
<line x1="281.5" y1="160.6" x2="279.9" y2="160.6" stroke="#3a3a3a" stroke-width="0.85" />
<line x1="219.1" y1="151.9" x2="220.7" y2="151.9" stroke="#3a3a3a" stroke-width="0.85" />
<line x1="281.5" y1="151.9" x2="279.9" y2="151.9" stroke="#3a3a3a" stroke-width="0.85" />
<line x1="219.1" y1="143.2" x2="220.7" y2="143.2" stroke="#3a3a3a" stroke-width="0.85" />
<line x1="281.5" y1="143.2" x2="279.9" y2="143.2" stroke="#3a3a3a" stroke-width="0.85" />
<text transform="translate(217,172.23) scale(1.0,1.12)" font-size="8.8" text-anchor="end" >0</text>
<text transform="translate(217,164.23) scale(1.0,1.12)" font-size="8.8" text-anchor="end" >5</text>
<text transform="translate(217,155.83) scale(1.0,1.12)" font-size="8.8" text-anchor="end" >10</text>
<text transform="translate(217,147.03) scale(1.0,1.12)" font-size="8.8" text-anchor="end" >15</text>
<text transform="translate(219.1,179.53) scale(1.0,1.12)" font-size="8.8" text-anchor="middle" >0</text>
<text transform="translate(242,179.53) scale(1.0,1.12)" font-size="8.8" text-anchor="middle" >150</text>
<text transform="translate(264.8,179.53) scale(1.0,1.12)" font-size="8.8" text-anchor="middle" >300</text>
<text transform="translate(80.9,8.9) scale(1.04,1.0)" font-size="10.3" text-anchor="start" >(a)</text>
<text transform="translate(103.6,8.9) scale(1.05,1.0)" font-size="10.3" text-anchor="start" >Fe (bcc)</text>
<text transform="translate(254.6,8.9) scale(1.04,1.0)" font-size="10.3" text-anchor="start" >(b)</text>
<text transform="translate(277.3,8.9) scale(1.05,1.0)" font-size="10.3" text-anchor="start" >Ni (fcc)</text>
<text transform="translate(80.3,126.2) scale(1.04,1.0)" font-size="10.3" text-anchor="start" >(c)</text>
<text transform="translate(101.2,126.2) scale(1.05,1.0)" font-size="10.3" text-anchor="start" >Co (hcp)</text>
<text transform="translate(253.2,126.2) scale(1.04,1.0)" font-size="10.3" text-anchor="start" >(d)</text>
<text transform="translate(275.2,126.2) scale(1.05,1.0)" font-size="10.3" text-anchor="start" >Co (fcc)</text>
<text x="111.6" y="257.2" font-size="8.8" text-anchor="middle" >T(K)</text>
<text x="283.6" y="257.2" font-size="8.8" text-anchor="middle" >T(K)</text>
<text transform="translate(9.9,66.4) rotate(-90)" font-size="10.2" text-anchor="middle"><tspan font-style="italic">ρ</tspan> (10<tspan font-size="6.6" dy="-3.5">−8</tspan><tspan dy="3.5">Ωm)</tspan></text>
<text transform="translate(14.3,183.7) rotate(-90)" font-size="10.2" text-anchor="middle"><tspan font-style="italic">ρ</tspan> (10<tspan font-size="6.6" dy="-3.5">−8</tspan><tspan dy="3.5">Ωm)</tspan></text>
</g></svg>
</body></html>
